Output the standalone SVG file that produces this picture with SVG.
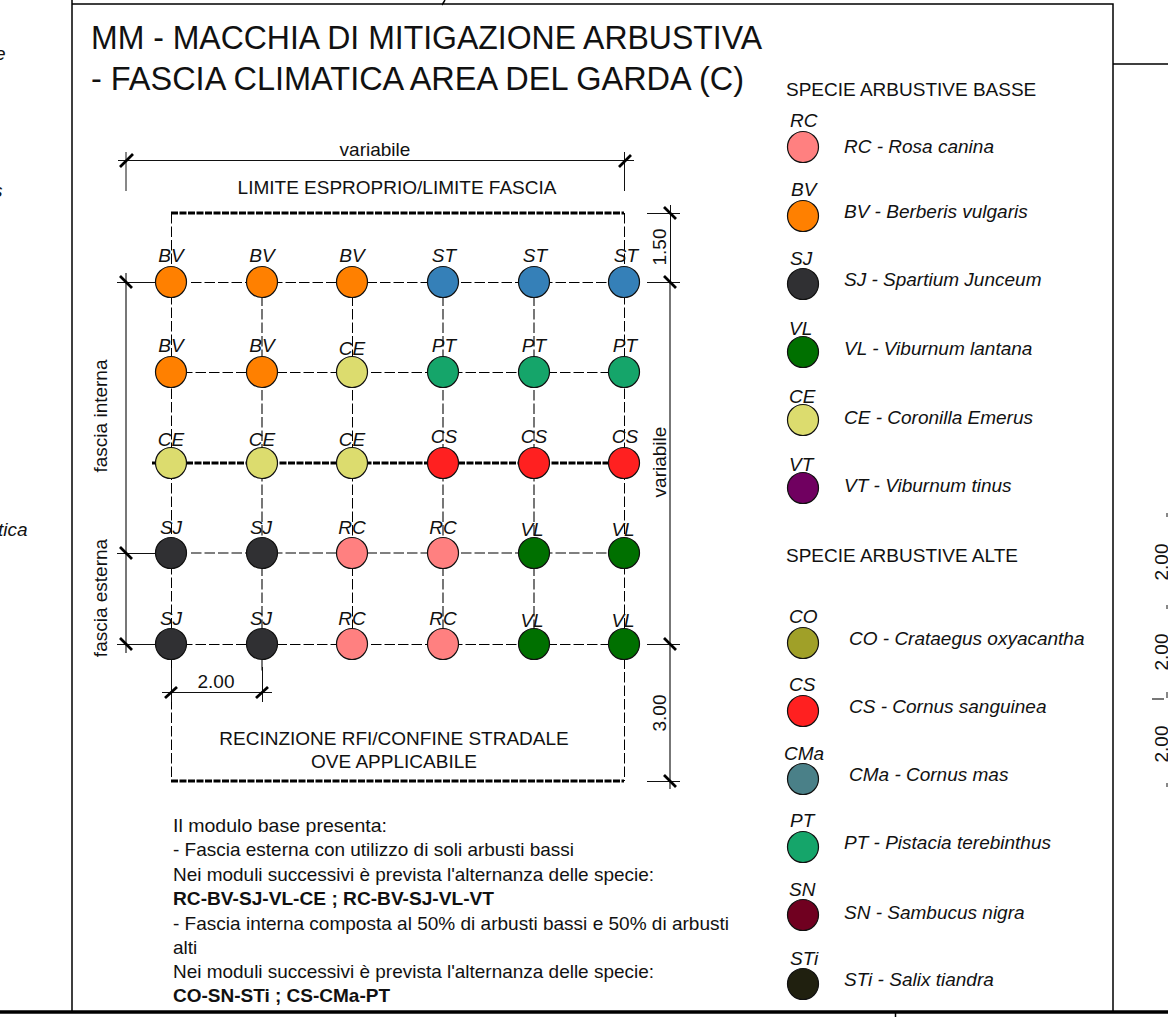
<svg xmlns="http://www.w3.org/2000/svg" width="1168" height="1017" viewBox="0 0 1168 1017">
<style>
text{font-family:"Liberation Sans",Arial,sans-serif;fill:#111}
.t{font-size:19px}
.l{font-size:19px;font-style:italic}
.c{font-size:19px;font-style:italic;text-anchor:middle}
.m{font-size:19px;text-anchor:middle}
.n{font-size:19px}
.b{font-weight:bold}
.f{stroke:#000;fill:none;stroke-width:1.5}
.g{stroke:#000;stroke-width:1;fill:none;stroke-dasharray:10.500 3}
.y{stroke:#555;stroke-width:1.6;fill:none;stroke-dasharray:10.500 3}
.h{stroke:#000;stroke-width:3.200;fill:none;stroke-dasharray:7 1.500}
.d{stroke:#111;stroke-width:1;fill:none}
.dg{stroke:#777;stroke-width:2;fill:none}
.k{stroke:#000;stroke-width:2.800;fill:none}
.p{stroke:#111;stroke-width:1.2}
.rc{fill:#ff8080}.bv{fill:#ff8000}.sj{fill:#303033}.vl{fill:#007000}.ce{fill:#dcdc6e}.vt{fill:#700060}
.st{fill:#3580b8}.pt{fill:#15a56a}.cs{fill:#ff2020}.co{fill:#a0a028}.cm{fill:#4a8088}.sn{fill:#700020}.si{fill:#20200f}
</style>
<rect width="1168" height="1017" fill="#fff"/>
<g id="frame">
<path class="f" d="M72 0V1012M72 4H1113V1012M1113 64H1168M445 0L442 5"/>
<path d="M0 1012H1168" stroke="#000" stroke-width="3.500"/>
<path class="f" d="M895.500 1012V1017" stroke-width="1"/>
</g>
<g id="title">
<text x="91" y="49" font-size="32.500" textLength="671" lengthAdjust="spacingAndGlyphs">MM - MACCHIA DI MITIGAZIONE ARBUSTIVA</text>
<text x="91" y="90" font-size="32.500" textLength="653" lengthAdjust="spacingAndGlyphs">- FASCIA CLIMATICA AREA DEL GARDA (C)</text>
</g>
<g id="cut-text">
<text class="l" x="-5" y="60">e</text>
<text class="l" x="-7" y="197">s</text>
<text class="l" x="-2" y="536">tica</text>
</g>
<g id="connectors">
<path class="g" d="M155 372.500H640M191 282.500H640M155 644.500H640"/>
<path class="y" d="M191 553H640"/>
<path class="g" d="M171.500 213V781M352.500 282V644M624.500 213V781"/>
<path class="y" d="M262 282V672M443 282V644M534 282V644"/>
<path class="h" d="M171 213H624M171 781H624M152 463H624"/>
</g>
<g id="dimensions">
<path class="d" d="M118 160.500H634M126 152V191M624.500 152V191"/>
<path class="k" d="M120 167L133 154M619 167L631 155"/>
<path class="dg" d="M126 273V653"/>
<path class="d" d="M117 282.500H155M117 553.500H155M117 644.500H155M647 213.500H680M647 282.500H680M647 644.500H680M647 781.500H680M670.500 205V282"/>
<path class="dg" d="M670 282V789"/>
<path class="k" d="M120 276L132 288M120 547L132 559M120 638L132 650M664 207L676 219M664 276L676 288M664 638L676 650M664 775L676 787"/>
<path class="d" d="M162 692.500H272M262.500 667V702M171.500 668V702"/>
<path class="k" d="M165 698L177 687M256 698L268 687"/>
<path class="d" d="M1167 513V517M1167 605V609M1167 692V698M1167 783V787"/>
<path class="dg" d="M1152 699H1164"/>
<text class="m" x="375" y="156">variabile</text>
<text class="m" x="397" y="194">LIMITE ESPROPRIO/LIMITE FASCIA</text>
<text class="m" x="394" y="745">RECINZIONE RFI/CONFINE STRADALE</text>
<text class="m" x="394" y="768">OVE APPLICABILE</text>
<text class="m" x="216" y="688">2.00</text>
<text class="m" transform="translate(107 416) rotate(-90)">fascia interna</text>
<text class="m" transform="translate(107 598) rotate(-90)">fascia esterna</text>
<text class="m" transform="translate(666 247) rotate(-90)">1.50</text>
<text class="m" transform="translate(666 462) rotate(-90)">variabile</text>
<text class="m" transform="translate(666 713) rotate(-90)">3.00</text>
<text class="m" transform="translate(1168 562) rotate(-90)">2.00</text>
<text class="m" transform="translate(1168 652) rotate(-90)">2.00</text>
<text class="m" transform="translate(1168 744) rotate(-90)">2.00</text>
</g>
<g id="grid">
<g id="r1"><circle class="p bv" cx="171" cy="282" r="15.500"/><text class="c" x="171" y="262">BV</text><circle class="p bv" cx="262" cy="282" r="15.500"/><text class="c" x="262" y="262">BV</text><circle class="p bv" cx="352" cy="282" r="15.500"/><text class="c" x="352" y="262">BV</text><circle class="p st" cx="443" cy="282" r="15.500"/><text class="c" x="444" y="262">ST</text><circle class="p st" cx="534" cy="282" r="15.500"/><text class="c" x="535" y="262">ST</text><circle class="p st" cx="624" cy="282" r="15.500"/><text class="c" x="626" y="262">ST</text></g>
<g id="r2"><circle class="p bv" cx="171" cy="372" r="15.500"/><text class="c" x="171" y="352">BV</text><circle class="p bv" cx="262" cy="372" r="15.500"/><text class="c" x="262" y="352">BV</text><circle class="p ce" cx="352" cy="372" r="15.500"/><text class="c" x="352" y="355">CE</text><circle class="p pt" cx="443" cy="372" r="15.500"/><text class="c" x="444" y="352">PT</text><circle class="p pt" cx="534" cy="372" r="15.500"/><text class="c" x="534" y="352">PT</text><circle class="p pt" cx="624" cy="372" r="15.500"/><text class="c" x="625" y="352">PT</text></g>
<g id="r3"><circle class="p ce" cx="171" cy="463" r="15.500"/><text class="c" x="171" y="446">CE</text><circle class="p ce" cx="262" cy="463" r="15.500"/><text class="c" x="262" y="446">CE</text><circle class="p ce" cx="352" cy="463" r="15.500"/><text class="c" x="352" y="446">CE</text><circle class="p cs" cx="443" cy="463" r="15.500"/><text class="c" x="444" y="443">CS</text><circle class="p cs" cx="534" cy="463" r="15.500"/><text class="c" x="534" y="443">CS</text><circle class="p cs" cx="624" cy="463" r="15.500"/><text class="c" x="625" y="443">CS</text></g>
<g id="r4"><circle class="p sj" cx="171" cy="553" r="15.500"/><text class="c" x="171" y="534">SJ</text><circle class="p sj" cx="262" cy="553" r="15.500"/><text class="c" x="261" y="534">SJ</text><circle class="p rc" cx="352" cy="553" r="15.500"/><text class="c" x="352" y="534">RC</text><circle class="p rc" cx="443" cy="553" r="15.500"/><text class="c" x="443" y="534">RC</text><circle class="p vl" cx="534" cy="553" r="15.500"/><text class="c" x="532" y="536">VL</text><circle class="p vl" cx="624" cy="553" r="15.500"/><text class="c" x="623" y="536">VL</text></g>
<g id="r5"><circle class="p sj" cx="171" cy="644" r="15.500"/><text class="c" x="171" y="625">SJ</text><circle class="p sj" cx="262" cy="644" r="15.500"/><text class="c" x="261" y="625">SJ</text><circle class="p rc" cx="352" cy="644" r="15.500"/><text class="c" x="352" y="625">RC</text><circle class="p rc" cx="443" cy="644" r="15.500"/><text class="c" x="443" y="625">RC</text><circle class="p vl" cx="534" cy="644" r="15.500"/><text class="c" x="532" y="627">VL</text><circle class="p vl" cx="624" cy="644" r="15.500"/><text class="c" x="623" y="627">VL</text></g>
</g>
<g id="note">
<text class="n" x="173" y="832" textLength="214" lengthAdjust="spacingAndGlyphs">Il modulo base presenta:</text>
<text class="n" x="173" y="856" textLength="401" lengthAdjust="spacingAndGlyphs">- Fascia esterna con utilizzo di soli arbusti bassi</text>
<text class="n" x="173" y="881" textLength="481" lengthAdjust="spacingAndGlyphs">Nei moduli successivi è prevista l'alternanza delle specie:</text>
<text class="n b" x="173" y="905" textLength="321" lengthAdjust="spacingAndGlyphs">RC-BV-SJ-VL-CE ; RC-BV-SJ-VL-VT</text>
<text class="n" x="173" y="930" textLength="556" lengthAdjust="spacingAndGlyphs">- Fascia interna composta al 50% di arbusti bassi e 50% di arbusti</text>
<text class="n" x="173" y="954">alti</text>
<text class="n" x="173" y="978" textLength="481" lengthAdjust="spacingAndGlyphs">Nei moduli successivi è prevista l'alternanza delle specie:</text>
<text class="n b" x="173" y="1002" textLength="217" lengthAdjust="spacingAndGlyphs">CO-SN-STi ; CS-CMa-PT</text>
</g>
<g id="legend">
<text class="t" x="786" y="96">SPECIE ARBUSTIVE BASSE</text>
<text class="t" x="786" y="562">SPECIE ARBUSTIVE ALTE</text>
<g id="lg-rc"><circle class="p rc" cx="803" cy="147" r="15.500"/><text class="l" x="790" y="127">RC</text><text class="l" x="844" y="153">RC - Rosa canina</text></g>
<g id="lg-bv"><circle class="p bv" cx="803" cy="216" r="15.500"/><text class="l" x="791" y="196">BV</text><text class="l" x="844" y="218">BV - Berberis vulgaris</text></g>
<g id="lg-sj"><circle class="p sj" cx="803" cy="284" r="15.500"/><text class="l" x="790" y="265">SJ</text><text class="l" x="844" y="286">SJ - Spartium Junceum</text></g>
<g id="lg-vl"><circle class="p vl" cx="803" cy="352" r="15.500"/><text class="l" x="789" y="335">VL</text><text class="l" x="844" y="355">VL - Viburnum lantana</text></g>
<g id="lg-ce"><circle class="p ce" cx="803" cy="420" r="15.500"/><text class="l" x="789" y="403">CE</text><text class="l" x="844" y="424">CE - Coronilla Emerus</text></g>
<g id="lg-vt"><circle class="p vt" cx="803" cy="488" r="15.500"/><text class="l" x="789" y="471">VT</text><text class="l" x="844" y="492">VT - Viburnum tinus</text></g>
<g id="lg-co"><circle class="p co" cx="803" cy="643" r="15.500"/><text class="l" x="789" y="623">CO</text><text class="l" x="849" y="645">CO - Crataegus oxyacantha</text></g>
<g id="lg-cs"><circle class="p cs" cx="803" cy="711" r="15.500"/><text class="l" x="789" y="691">CS</text><text class="l" x="849" y="713">CS - Cornus sanguinea</text></g>
<g id="lg-cm"><circle class="p cm" cx="803" cy="779" r="15.500"/><text class="l" x="784" y="760">CMa</text><text class="l" x="849" y="781">CMa - Cornus mas</text></g>
<g id="lg-pt"><circle class="p pt" cx="803" cy="847" r="15.500"/><text class="l" x="790" y="827">PT</text><text class="l" x="844" y="849">PT - Pistacia terebinthus</text></g>
<g id="lg-sn"><circle class="p sn" cx="803" cy="915" r="15.500"/><text class="l" x="789" y="896">SN</text><text class="l" x="844" y="919">SN - Sambucus nigra</text></g>
<g id="lg-si"><circle class="p si" cx="803" cy="984" r="15.500"/><text class="l" x="790" y="965">STi</text><text class="l" x="844" y="986">STi - Salix tiandra</text></g>
</g>
</svg>
